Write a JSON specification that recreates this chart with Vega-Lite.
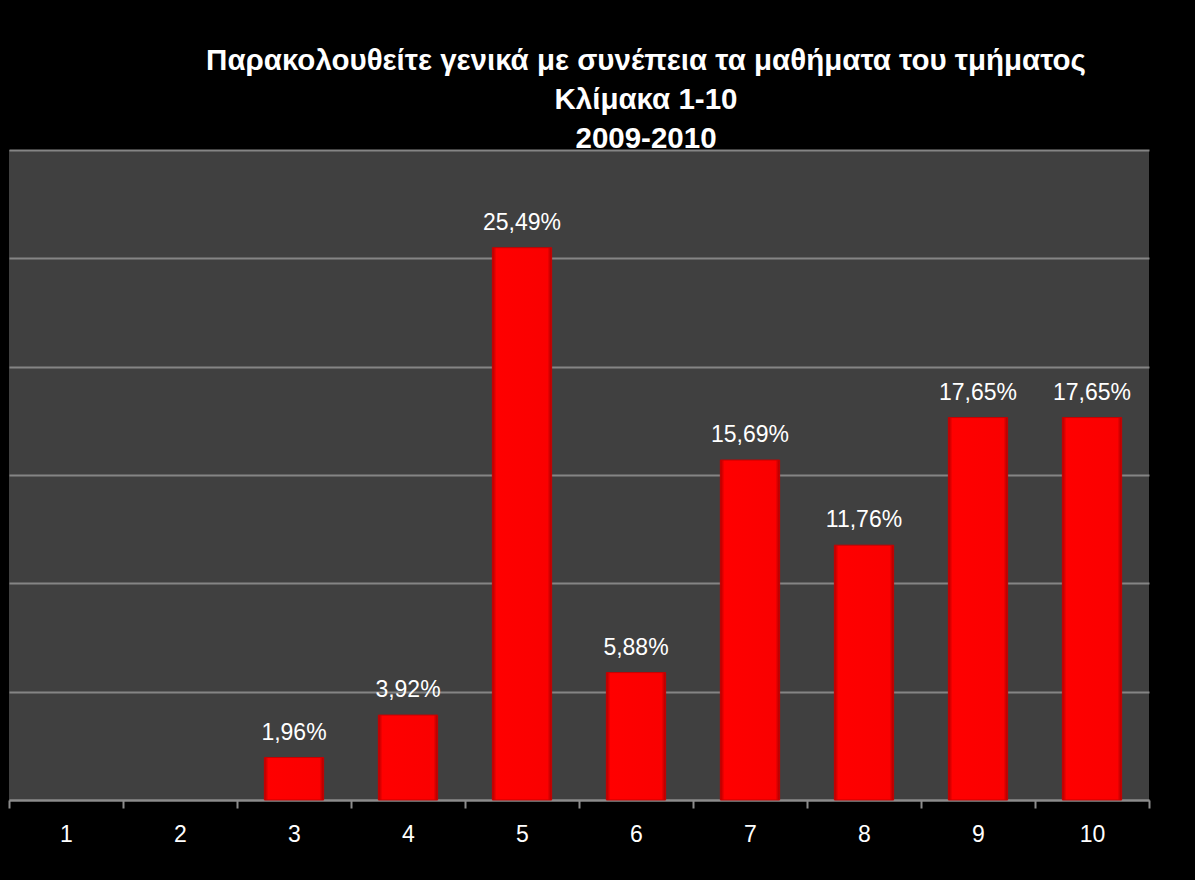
{
  "$schema": "https://vega.github.io/schema/vega-lite/v6.json",
  "width": 1140,
  "height": 650,
  "padding": {"left": 8, "top": 45, "right": 47, "bottom": 60},
  "background": "#000000",
  "title": {
    "text": ["Παρακολουθείτε γενικά με συνέπεια τα μαθήματα του τμήματος", "Κλίμακα 1-10", "2009-2010"],
    "color": "#ffffff",
    "font": "Liberation Sans",
    "fontSize": 29.5,
    "fontWeight": "bold",
    "lineHeight": 39,
    "offset": -4,
    "dx": 67,
    "anchor": "middle"
  },
  "config": {
    "view": {"fill": "#404040", "stroke": null},
    "locale": {"number": {"decimal": ",", "thousands": ".", "grouping": [3], "currency": ["", " €"]}}
  },
  "data": {
    "values": [
      {"score": 1, "share": 0},
      {"score": 2, "share": 0},
      {"score": 3, "share": 0.0196},
      {"score": 4, "share": 0.0392},
      {"score": 5, "share": 0.2549},
      {"score": 6, "share": 0.0588},
      {"score": 7, "share": 0.1569},
      {"score": 8, "share": 0.1176},
      {"score": 9, "share": 0.1765},
      {"score": 10, "share": 0.1765}
    ]
  },
  "encoding": {
    "x": {
      "field": "score",
      "type": "ordinal",
      "scale": {"domain": [1, 2, 3, 4, 5, 6, 7, 8, 9, 10], "paddingInner": 0, "paddingOuter": 0},
      "axis": {
        "title": null,
        "labelAngle": 0,
        "labelColor": "#ffffff",
        "labelFont": "Liberation Sans",
        "labelFontSize": 23,
        "labelPadding": 15,
        "tickBand": "extent",
        "tickColor": "#8c8c8c",
        "tickSize": 8,
        "tickWidth": 2,
        "domainColor": "#8c8c8c",
        "domainWidth": 2
      }
    },
    "y": {
      "field": "share",
      "type": "quantitative",
      "scale": {"domain": [0, 0.3], "nice": false},
      "axis": {
        "title": null,
        "labels": false,
        "ticks": false,
        "domain": false,
        "values": [0, 0.05, 0.1, 0.15, 0.2, 0.25, 0.3],
        "grid": true,
        "gridColor": "#858585",
        "gridWidth": 2
      }
    }
  },
  "layer": [
    {
      "transform": [{"filter": "datum.share > 0"}],
      "mark": {
        "type": "bar",
        "width": {"band": 0.52},
        "fill": {
          "gradient": "linear",
          "x1": 0, "y1": 0, "x2": 1, "y2": 0,
          "stops": [
            {"offset": 0, "color": "#b00000"},
            {"offset": 0.07, "color": "#ff0000"},
            {"offset": 0.93, "color": "#fa0000"},
            {"offset": 1, "color": "#a80000"}
          ]
        },
        "stroke": "#c80000",
        "strokeWidth": 1
      }
    },
    {
      "transform": [{"filter": "datum.share > 0"}],
      "mark": {
        "type": "text",
        "color": "#ffffff",
        "font": "Liberation Sans",
        "fontSize": 23,
        "baseline": "alphabetic",
        "dy": -18
      },
      "encoding": {
        "text": {"field": "share", "type": "quantitative", "format": ".2%"}
      }
    }
  ]
}
